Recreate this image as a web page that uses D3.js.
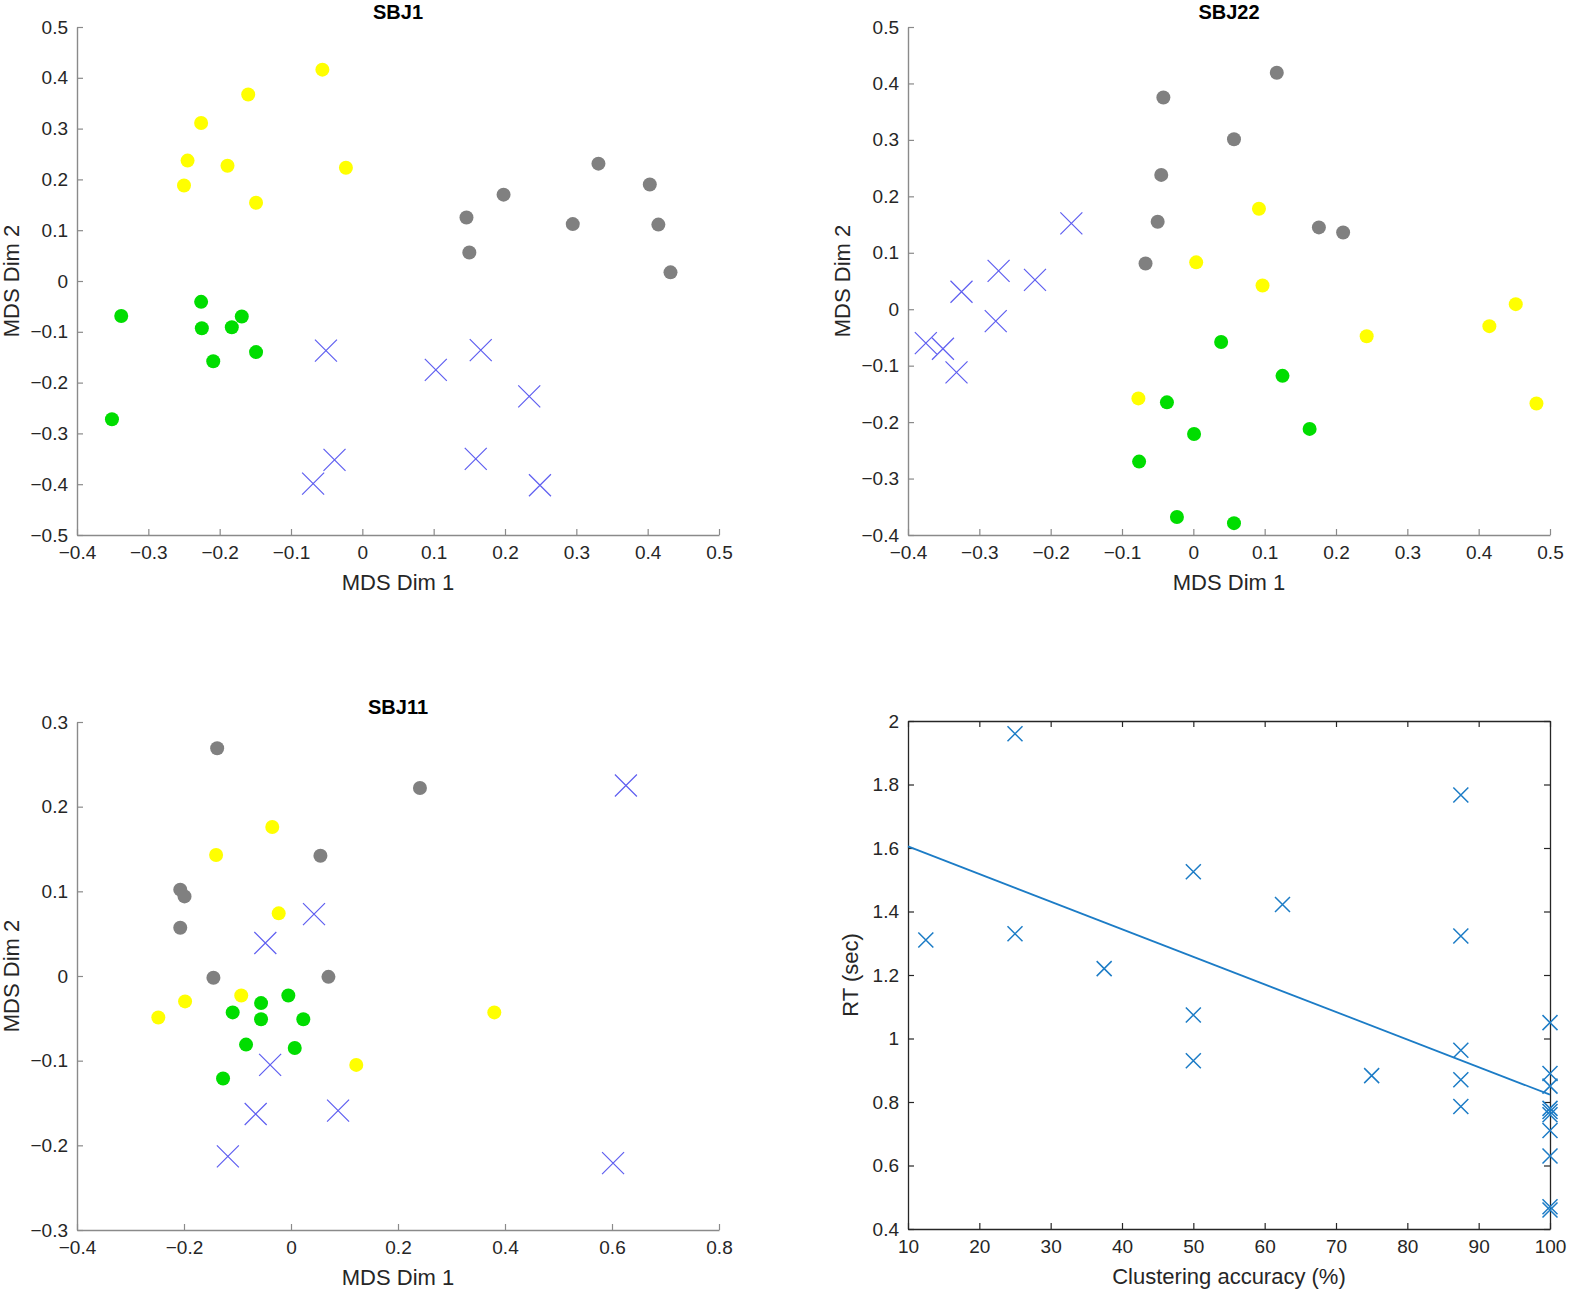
<!DOCTYPE html>
<html>
<head>
<meta charset="utf-8">
<script src="https://cdn.jsdelivr.net/npm/d3@7"></script>
<style>
  html, body { margin: 0; padding: 0; background: #fff; }
  svg { display: block; }
  text { font-family: "Liberation Sans", Arial, Helvetica, sans-serif; }
</style>
</head>
<body>
<svg id="chart" width="1572" height="1295"></svg>
<script>
// ---------------- DATA ----------------
// SBJ1 (MDS Dim 1, MDS Dim 2)
const sbj1Gray   = [[0.331,0.231],[0.403,0.190],[0.198,0.170],[0.146,0.125],[0.295,0.112],[0.415,0.111],[0.150,0.056],[0.432,0.017]];
const sbj1Yellow = [[-0.245,0.237],[-0.189,0.227],[-0.250,0.188],[-0.149,0.154],[-0.023,0.223],[-0.226,0.311],[-0.160,0.367],[-0.056,0.416]];
const sbj1Green  = [[-0.226,-0.041],[-0.338,-0.069],[-0.169,-0.070],[-0.225,-0.093],[-0.183,-0.091],[-0.149,-0.140],[-0.209,-0.158],[-0.351,-0.272]];
const sbj1Blue   = [[-0.051,-0.137],[0.103,-0.175],[0.166,-0.136],[0.234,-0.227],[-0.039,-0.352],[-0.069,-0.399],[0.159,-0.350],[0.249,-0.402]];

// SBJ22
const sbj22Gray   = [[0.117,0.419],[-0.042,0.375],[0.057,0.301],[-0.045,0.238],[-0.050,0.155],[0.176,0.145],[0.210,0.136],[-0.067,0.081]];
const sbj22Yellow = [[0.092,0.178],[0.004,0.083],[0.097,0.042],[0.452,0.009],[0.415,-0.030],[0.243,-0.048],[-0.077,-0.158],[0.481,-0.167]];
const sbj22Green  = [[0.039,-0.058],[0.125,-0.118],[-0.037,-0.165],[0.163,-0.212],[0.001,-0.221],[-0.076,-0.270],[-0.023,-0.368],[0.057,-0.379]];
const sbj22Blue   = [[-0.171,0.152],[-0.273,0.068],[-0.222,0.052],[-0.325,0.031],[-0.277,-0.021],[-0.375,-0.060],[-0.351,-0.070],[-0.332,-0.112]];

// SBJ11
const sbj11Gray   = [[-0.138,0.269],[0.241,0.222],[0.055,0.142],[-0.207,0.102],[-0.199,0.094],[-0.207,0.057],[-0.145,-0.002],[0.070,-0.001]];
const sbj11Yellow = [[-0.035,0.176],[-0.140,0.143],[-0.023,0.074],[-0.093,-0.023],[-0.198,-0.030],[-0.248,-0.049],[0.380,-0.043],[0.122,-0.105]];
const sbj11Green  = [[-0.005,-0.023],[-0.056,-0.032],[-0.109,-0.043],[-0.056,-0.051],[0.023,-0.051],[-0.084,-0.081],[0.007,-0.085],[-0.127,-0.121]];
const sbj11Blue   = [[0.626,0.225],[0.043,0.073],[-0.048,0.039],[-0.039,-0.105],[0.088,-0.159],[-0.066,-0.163],[-0.118,-0.213],[0.602,-0.221]];

// RT vs clustering accuracy
const accuracy = [12.5, 25, 25, 37.5, 50, 50, 50, 62.5, 75, 87.5, 87.5, 87.5, 87.5, 87.5,
                  100, 100, 100, 100, 100, 100, 100, 100, 100, 100];
const rtSec    = [1.31, 1.96, 1.33, 1.22, 1.525, 1.074, 0.93, 1.422, 0.883, 1.767, 1.323, 0.963, 0.870, 0.786,
                  1.05, 0.89, 0.85, 0.78, 0.77, 0.76, 0.71, 0.63, 0.47, 0.46];
const fitX = [10, 100];
const fitY = [1.605, 0.823];

// Tick values
const sbj1XTicks  = [-0.4,-0.3,-0.2,-0.1,0,0.1,0.2,0.3,0.4,0.5];
const sbj1YTicks  = [-0.5,-0.4,-0.3,-0.2,-0.1,0,0.1,0.2,0.3,0.4,0.5];
const sbj22XTicks = [-0.4,-0.3,-0.2,-0.1,0,0.1,0.2,0.3,0.4,0.5];
const sbj22YTicks = [-0.4,-0.3,-0.2,-0.1,0,0.1,0.2,0.3,0.4,0.5];
const sbj11XTicks = [-0.4,-0.2,0,0.2,0.4,0.6,0.8];
const sbj11YTicks = [-0.3,-0.2,-0.1,0,0.1,0.2,0.3];
const rtXTicks    = [10,20,30,40,50,60,70,80,90,100];
const rtYTicks    = [0.4,0.6,0.8,1,1.2,1.4,1.6,1.8,2];

// ---------------- DRAWING ----------------
const svg = d3.select("#chart");
const COL = { gray: "#808080", yellow: "#ffff00", green: "#00dd00", blue: "#5e5ef0", rt: "#1c7cc6", text: "#262626" };
const fmt = d => d3.format("")(d).replace("-", "\u2212");
const TICK_FS = 19, LABEL_FS = 22, TITLE_FS = 20;

function mdsPanel(o) {
  const x = d3.scaleLinear().domain(o.xd).range([o.x0, o.x1]);
  const y = d3.scaleLinear().domain(o.yd).range([o.y1, o.y0]);
  const g = svg.append("g");

  const xa = g.append("g").attr("transform", `translate(0,${o.y1})`)
    .call(d3.axisBottom(x).tickValues(o.xt).tickFormat(fmt).tickSizeInner(-6).tickSizeOuter(0).tickPadding(11));
  const ya = g.append("g").attr("transform", `translate(${o.x0},0)`)
    .call(d3.axisLeft(y).tickValues(o.yt).tickFormat(fmt).tickSizeInner(-6).tickSizeOuter(0).tickPadding(9));
  [xa, ya].forEach(a => {
    a.select(".domain").attr("stroke", "#8a8a8a").attr("stroke-width", 1.4);
    a.selectAll(".tick line").attr("stroke", "#8a8a8a").attr("stroke-width", 1.2);
    a.selectAll(".tick text").attr("fill", COL.text).attr("font-size", TICK_FS).style("font-family", '"Liberation Sans", Arial, sans-serif');
  });
  xa.selectAll(".tick text").attr("dy", "0.71em");

  g.append("text").attr("x", (o.x0 + o.x1) / 2).attr("y", o.y1 + 55)
    .attr("text-anchor", "middle").attr("font-size", LABEL_FS).attr("fill", COL.text).text("MDS Dim 1");
  g.append("text").attr("transform", `translate(${o.x0 - 58},${(o.y0 + o.y1) / 2}) rotate(-90)`)
    .attr("text-anchor", "middle").attr("font-size", LABEL_FS).attr("fill", COL.text).text("MDS Dim 2");
  g.append("text").attr("x", (o.x0 + o.x1) / 2).attr("y", o.y0 - 8)
    .attr("text-anchor", "middle").attr("font-size", TITLE_FS).attr("font-weight", "bold").attr("fill", "#000").text(o.title);

  const groups = [[o.gray, COL.gray], [o.yellow, COL.yellow], [o.green, COL.green]];
  groups.forEach(([data, c]) => {
    g.append("g").selectAll("circle").data(data).join("circle")
      .attr("cx", d => x(d[0])).attr("cy", d => y(d[1])).attr("r", 7).attr("fill", c);
  });
  const s = 11;
  g.append("g").selectAll("path").data(o.blue).join("path")
    .attr("d", d => {
      const cx = x(d[0]), cy = y(d[1]);
      return `M${cx - s},${cy - s}L${cx + s},${cy + s}M${cx - s},${cy + s}L${cx + s},${cy - s}`;
    })
    .attr("stroke", COL.blue).attr("stroke-width", 1.2).attr("fill", "none");
}

mdsPanel({ title: "SBJ1", x0: 77, x1: 719, y0: 27, y1: 535, xd: [-0.4, 0.5], yd: [-0.5, 0.5],
  xt: sbj1XTicks, yt: sbj1YTicks, gray: sbj1Gray, yellow: sbj1Yellow, green: sbj1Green, blue: sbj1Blue });
mdsPanel({ title: "SBJ22", x0: 908, x1: 1550, y0: 27, y1: 535, xd: [-0.4, 0.5], yd: [-0.4, 0.5],
  xt: sbj22XTicks, yt: sbj22YTicks, gray: sbj22Gray, yellow: sbj22Yellow, green: sbj22Green, blue: sbj22Blue });
mdsPanel({ title: "SBJ11", x0: 77, x1: 719, y0: 722, y1: 1230, xd: [-0.4, 0.8], yd: [-0.3, 0.3],
  xt: sbj11XTicks, yt: sbj11YTicks, gray: sbj11Gray, yellow: sbj11Yellow, green: sbj11Green, blue: sbj11Blue });

// RT panel
(function () {
  const x0 = 908, x1 = 1550, y0 = 721, y1 = 1229;
  const x = d3.scaleLinear().domain([10, 100]).range([x0, x1]);
  const y = d3.scaleLinear().domain([0.4, 2]).range([y1, y0]);
  const g = svg.append("g");
  const axes = [
    g.append("g").attr("transform", `translate(0,${y1})`).call(d3.axisBottom(x).tickValues(rtXTicks).tickFormat(fmt).tickSizeInner(-6).tickSizeOuter(0).tickPadding(11)),
    g.append("g").attr("transform", `translate(0,${y0})`).call(d3.axisTop(x).tickValues(rtXTicks).tickFormat("").tickSizeInner(-6).tickSizeOuter(0)),
    g.append("g").attr("transform", `translate(${x0},0)`).call(d3.axisLeft(y).tickValues(rtYTicks).tickFormat(fmt).tickSizeInner(-6).tickSizeOuter(0).tickPadding(9)),
    g.append("g").attr("transform", `translate(${x1},0)`).call(d3.axisRight(y).tickValues(rtYTicks).tickFormat("").tickSizeInner(-6).tickSizeOuter(0))
  ];
  axes.forEach(a => {
    a.select(".domain").attr("stroke", "#262626").attr("stroke-width", 1.3);
    a.selectAll(".tick line").attr("stroke", "#262626").attr("stroke-width", 1.2);
    a.selectAll(".tick text").attr("fill", COL.text).attr("font-size", TICK_FS).style("font-family", '"Liberation Sans", Arial, sans-serif');
  });
  axes[0].selectAll(".tick text").attr("dy", "0.71em");

  g.append("text").attr("x", (x0 + x1) / 2).attr("y", y1 + 55)
    .attr("text-anchor", "middle").attr("font-size", LABEL_FS).attr("fill", COL.text).text("Clustering accuracy (%)");
  g.append("text").attr("transform", `translate(${x0 - 50},${(y0 + y1) / 2}) rotate(-90)`)
    .attr("text-anchor", "middle").attr("font-size", LABEL_FS).attr("fill", COL.text).text("RT (sec)");

  const pts = accuracy.map((a, i) => [a, rtSec[i]]);
  const s = 7.5;
  g.append("g").selectAll("path").data(pts).join("path")
    .attr("d", d => {
      const cx = x(d[0]), cy = y(d[1]);
      return `M${cx - s},${cy - s}L${cx + s},${cy + s}M${cx - s},${cy + s}L${cx + s},${cy - s}`;
    })
    .attr("stroke", COL.rt).attr("stroke-width", 1.5).attr("fill", "none");

  const line = d3.line().x(d => x(d[0])).y(d => y(d[1]));
  g.append("path").datum(fitX.map((v, i) => [v, fitY[i]])).attr("d", line)
    .attr("stroke", COL.rt).attr("stroke-width", 1.8).attr("fill", "none");
})();
</script>
</body>
</html>
